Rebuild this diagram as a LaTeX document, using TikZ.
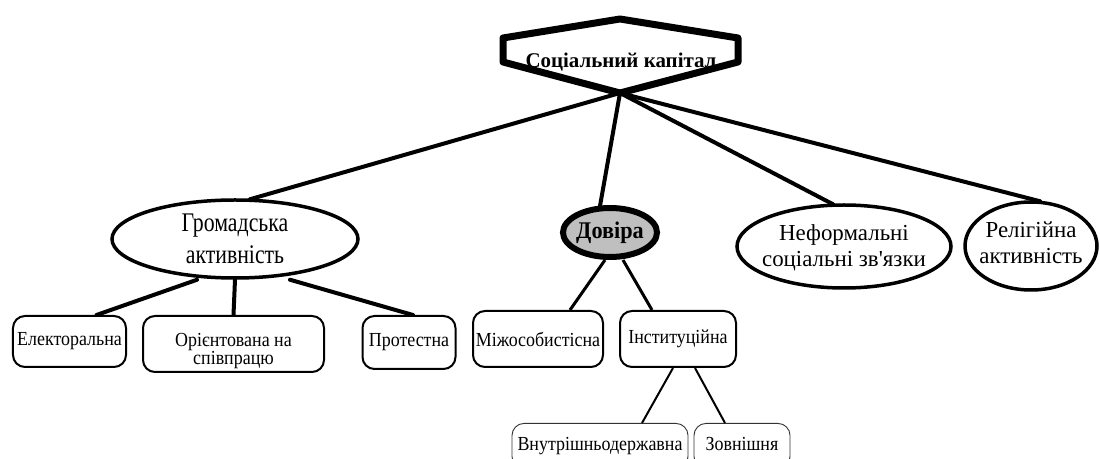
\documentclass[tikz,border=0pt]{standalone}
\usepackage{fontspec}
\setmainfont{Liberation Serif}
\newfontfamily\ovalfont[FakeStretch=0.81]{Liberation Serif}
\newfontfamily\plainfont{Liberation Serif}
\newfontfamily\boxfont[FakeStretch=0.9]{Liberation Serif}
\newfontfamily\dovfont[FakeStretch=0.93]{Liberation Serif Bold}
\usetikzlibrary{shapes.geometric}
\tikzset{
  conn/.style={line width=4bp, line cap=round},
  midconn/.style={line width=3bp},
  thinconn/.style={line width=2bp},
  oval/.style={ellipse, draw, line width=3.5bp, inner sep=0pt},
  ovaltext/.style={align=center, inner sep=0pt},
  box/.style={draw, line width=2bp, rounded corners=12bp, inner sep=0pt, font=\boxfont\fontsize{20}{19}\selectfont},
  thinbox/.style={draw=black!80, line width=0.9bp, rounded corners=12bp, inner xsep=0pt, font=\boxfont\fontsize{20}{19}\selectfont},
}
\begin{document}
\begin{tikzpicture}[x=1bp,y=-1bp]
\useasboundingbox (0,0) rectangle (1100,459);
\clip (0,0) rectangle (1100,459);
% title hexagon
\coordinate (hT) at (620,19);
\coordinate (apex) at (620,93);
\draw[line width=7bp, line join=round] (hT) -- (738,38) -- (738,62) -- (apex) -- (503,62) -- (503,38) -- cycle;
\node[font=\fontsize{21}{24}\selectfont\bfseries, inner sep=0pt] (title) at (621,62) {Соціальний капітал};

% level 1 ellipses
\node[oval, minimum width=246bp, minimum height=78bp,
      label={[ovaltext, font=\ovalfont\fontsize{27}{32}\selectfont]center:Громадська\\активність}] (grom) at (235,239) {};
\node[oval, line width=6bp, fill=black!25, minimum width=94bp, minimum height=49bp,
      label={[font=\dovfont\fontsize{24}{24}\selectfont, inner sep=0pt]center:Довіра}] (dov) at (610,232.5) {};
\node[oval, minimum width=214bp, minimum height=83bp,
      label={[ovaltext, font=\plainfont\fontsize{23}{26}\selectfont, yshift=-1bp]center:Неформальні\\соціальні зв'язки}] (nef) at (844,246.5) {};
\node[oval, minimum width=132bp, minimum height=88bp,
      label={[ovaltext, font=\plainfont\fontsize{23}{26}\selectfont, yshift=3bp]center:Релігійна\\активність}] (rel) at (1031,246) {};

\draw[conn] (apex) -- ([xshift=15bp,yshift=-1bp]grom.north);
\draw[conn] (apex) -- ([xshift=-10bp,yshift=-1bp]dov.north);
\draw[conn] (apex) -- ([xshift=-11bp,yshift=-1bp]nef.north);
\draw[conn] (apex) -- ([xshift=9bp,yshift=-1bp]rel.north);

% civic activity boxes
\node[box, minimum width=113bp, minimum height=51bp] (elek) at (69.5,341.5) {Електоральна};
\begin{scope}
  \clip (143,316) rectangle (324,371);
  \node[font=\boxfont\fontsize{20}{19}\selectfont, align=center, inner sep=0pt] (orienttext) at (233.5,351) {Орієнтована на\\співпрацю};
\end{scope}
\node[box, minimum width=181bp, minimum height=56bp] (orient) at (233.5,344) {};
\node[box, minimum width=93bp, minimum height=53bp] (prot) at (409,342.5) {Протестна};

\draw[conn] ([xshift=-38bp]grom.south) -- ([xshift=27bp]elek.north);
\draw[conn] (grom.south) -- (orient.north);
\draw[conn] ([xshift=55bp]grom.south) -- ([xshift=4bp]prot.north);

% trust boxes
\node[box, minimum width=130bp, minimum height=56bp] (miz) at (538,339) {Міжособистісна};
\node[box, minimum width=116bp, minimum height=56bp] (inst) at (678,339) {Інституційна};
\draw[midconn] ([xshift=-5bp]dov.south) -- ([xshift=32bp]miz.north);
\draw[midconn] ([xshift=13bp]dov.south) -- ([xshift=-26bp]inst.north);

% institutional
\node[thinbox, anchor=north, minimum width=176bp, text height=13bp, text depth=4bp, inner ysep=14bp] (vnut) at (600,423) {Внутрішньодержавна};
\node[thinbox, anchor=north, minimum width=96bp, text height=13bp, text depth=4bp, inner ysep=14bp] (zovn) at (742,423) {Зовнішня};
\draw[thinconn] ([xshift=-5bp]inst.south) -- ([xshift=42bp]vnut.north);
\draw[thinconn] ([xshift=17bp]inst.south) -- ([xshift=-17bp]zovn.north);
\end{tikzpicture}
\end{document}
